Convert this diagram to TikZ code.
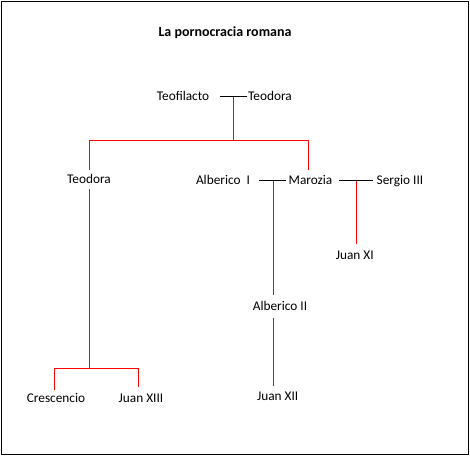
\documentclass[tikz,border=0pt]{standalone}
\usepackage{fontspec}
\setmainfont{Carlito}
\begin{document}
\begin{tikzpicture}[x=1pt,y=-1pt,
  person/.style={font=\fontsize{13.3}{15}\selectfont, inner sep=0pt, text height=8pt, text depth=0pt, anchor=base},
  spouse/.style={draw=black, line width=1pt},
  descent/.style={draw=red, line width=1.5pt},
]
\useasboundingbox (0,0) rectangle (470,456);
\draw[line width=1pt] (1.5,1.5) rectangle (468,454);
\node[anchor=base, inner sep=0pt, font=\bfseries\fontsize{14}{16}\selectfont] (title) at (225,36) {La pornocracia romana};

\node[person] (teofilacto) at (183,100) {Teofilacto};
\node[person] (teodora) at (270,100) {Teodora};
\node[person] (teodoraL) at (89,183.5) {Teodora};
\node[person] (albericoI) at (223,184) {Alberico\ \ I};
\node[person] (marozia) at (310.5,184) {Marozia};
\node[person] (sergio) at (400,184) {Sergio III};
\node[person] (juanXI) at (354.7,259.5) {Juan XI};
\node[person] (albericoII) at (280,310.7) {Alberico II};
\node[person] (crescencio) at (56,402.7) {Crescencio};
\node[person] (juanXIII) at (141,402.7) {Juan XIII};
\node[person] (juanXII) at (277.7,400) {Juan XII};

\coordinate (u1) at (233.5,96.5);
\coordinate (b1) at (233.5,140.5);
\coordinate (u2) at (273.5,180.5);
\coordinate (u3) at (356.5,180.5);
\coordinate (b2) at (89.5,368.5);

% spouses
\draw[spouse] (220,96.5) coordinate (s1) -- (246.5,96.5) coordinate (s1e);
\draw[spouse] (259,180.5) coordinate (s2) -- (286,180.5) coordinate (s2e);
\draw[spouse] (339,180.5) coordinate (s3) -- (373,180.5) coordinate (s3e);

% descent from Teofilacto & Teodora
\draw[descent] (u1) -- (b1);
\draw[descent] (89.5,169.5) -- (89.5,140.5) -- (308.5,140.5) -- (308.5,170);
% Teodora's children
\draw[descent] (89.5,189) -- (b2);
\draw[descent] (54.5,390) -- (54.5,368.5) -- (138.5,368.5) -- (138.5,387);
% Alberico I & Marozia
\draw[descent] (u2) -- (273.5,295);
\draw[descent] (273.5,317.5) -- (273.5,386);
% Marozia & Sergio III
\draw[descent] (u3) -- (356.5,243.5);
\end{tikzpicture}
\end{document}
